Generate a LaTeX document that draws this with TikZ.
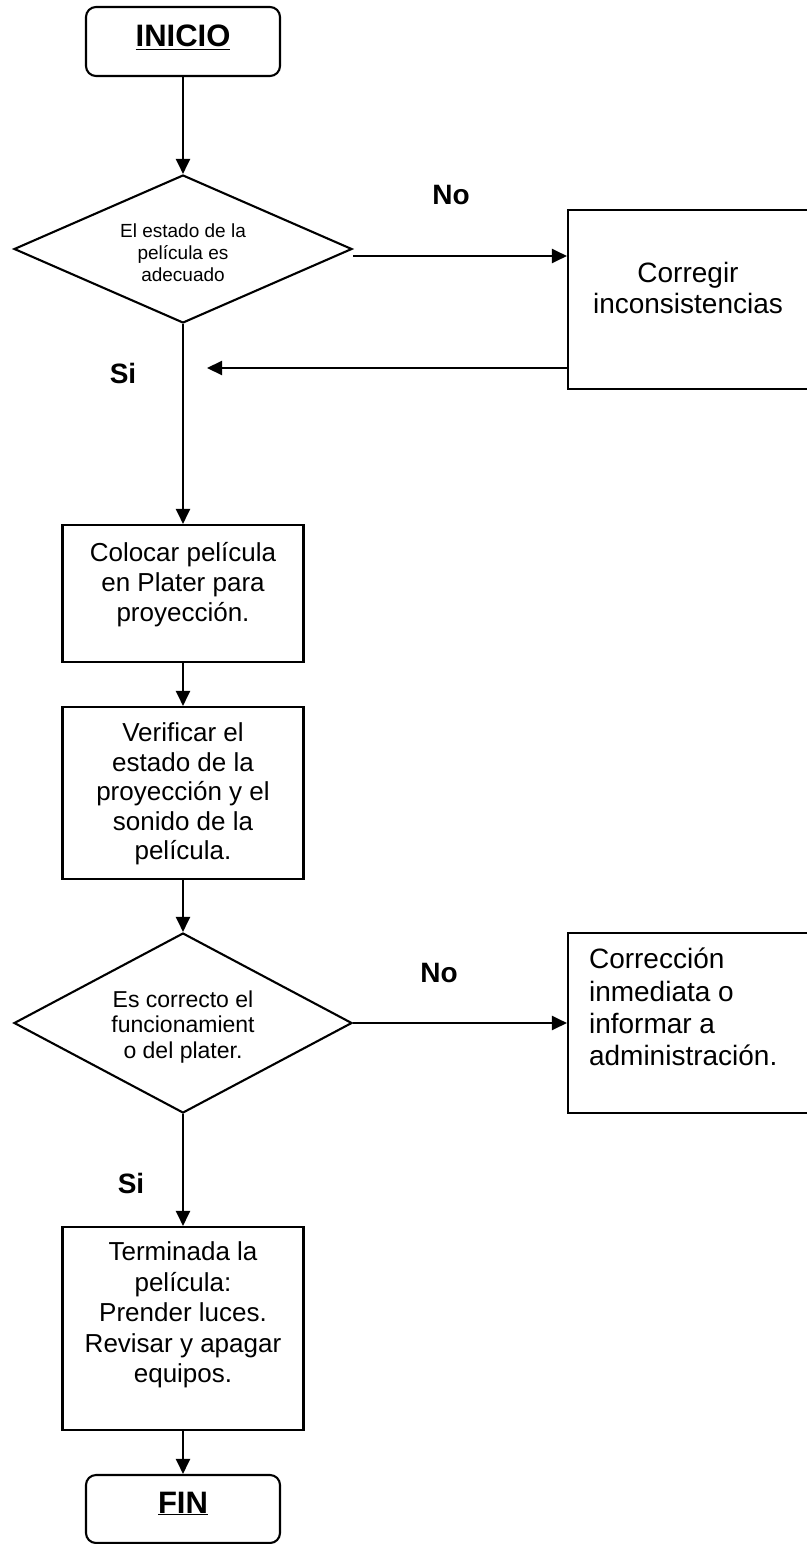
\documentclass[tikz,border=0pt]{standalone}
\usepackage{fontspec}
\setmainfont{Liberation Sans}
\usetikzlibrary{arrows.meta,shapes.geometric}
\begin{document}
\begin{tikzpicture}[x=1pt,y=-1pt,
  line width=2.1pt,
  arr/.style={-{Triangle[length=15pt,width=14pt]}},
  term/.style={draw, rounded corners=10pt, minimum width=194pt, minimum height=69pt, inner sep=0pt},
  proc/.style={draw, minimum width=241pt, inner sep=0pt},
  dec/.style={draw, diamond, minimum width=338pt, inner sep=0pt},
  body/.style={font=\fontsize{26}{30}\selectfont, align=center, inner sep=0pt},
  lbl/.style={font=\fontsize{28}{32}\selectfont\bfseries, inner sep=0pt},
]
\path[use as bounding box, fill=white] (0,0) rectangle (806,1544);

% terminals
\node[term] (ini) at (183,41.5) {};
\node[lbl, font=\fontsize{31}{34}\selectfont\bfseries, anchor=base] (tini) at (183,47) {\underline{INICIO}};
\node[term, minimum height=68pt] (fin) at (183,1509) {};
\node[lbl, font=\fontsize{31}{34}\selectfont\bfseries, anchor=base] (tfin) at (183,1513) {\underline{FIN}};

% decisions
\node[dec, minimum height=148pt] (d1) at (183,249) {};
\node[body, font=\fontsize{19}{22}\selectfont] (td1) at (183,253)
  {El estado de la\\película es\\adecuado};
\node[dec, minimum height=180pt] (d2) at (183,1023) {};
\node[body, font=\fontsize{23}{25.5}\selectfont] (td2) at (183,1027)
  {Es correcto el\\funcionamient\\o del plater.};

% process boxes
\node[proc, minimum width=242pt, minimum height=179pt] (corr) at (689,299.5) {};
\node[body, font=\fontsize{28}{31}\selectfont] (tcorr) at (688,288) {Corregir\\inconsistencias};

\node[proc, minimum height=137pt] (col) at (183,593.5) {};
\node[body] (tcol) at (183,585) {Colocar película\\en Plater para\\proyección.};

\node[proc, minimum height=172pt] (ver) at (183,793) {};
\node[body, font=\fontsize{26}{29.5}\selectfont] (tver) at (183,794)
  {Verificar el\\estado de la\\proyección y el\\sonido de la\\película.};

\node[proc, minimum width=242pt, minimum height=180pt] (cinf) at (689,1023) {};
\node[body, font=\fontsize{28}{32.3}\selectfont, align=left, anchor=west] (tcinf) at (588,1007)
  {Corrección\\inmediata o\\informar a\\administración.};

\node[proc, minimum height=203pt] (ter) at (183,1328.5) {};
\node[body, font=\fontsize{26}{30.5}\selectfont] (tter) at (183,1315)
  {Terminada la\\película:\\Prender luces.\\Revisar y apagar\\equipos.};

% branch labels
\node[lbl] (no1) at (451,195) {No};
\node[lbl] (si1) at (123,373) {Si};
\node[lbl] (no2) at (439,973) {No};
\node[lbl] (si2) at (131,1183) {Si};

% connectors
\draw[arr] (ini) -- (d1);
\coordinate (n1) at ([yshift=-7pt]d1.east);
\draw[arr] (n1) -- (n1 -| corr.west);
\coordinate (rt) at (207,368);
\draw[arr] (rt -| corr.west) -- (rt);
\draw[arr] (d1) -- (col);
\draw[arr] (col) -- (ver);
\draw[arr] (ver) -- (d2);
\draw[arr] (d2.east) -- (cinf.west);
\draw[arr] (d2) -- (ter);
\draw[arr] (ter) -- (fin);
\end{tikzpicture}
\end{document}
